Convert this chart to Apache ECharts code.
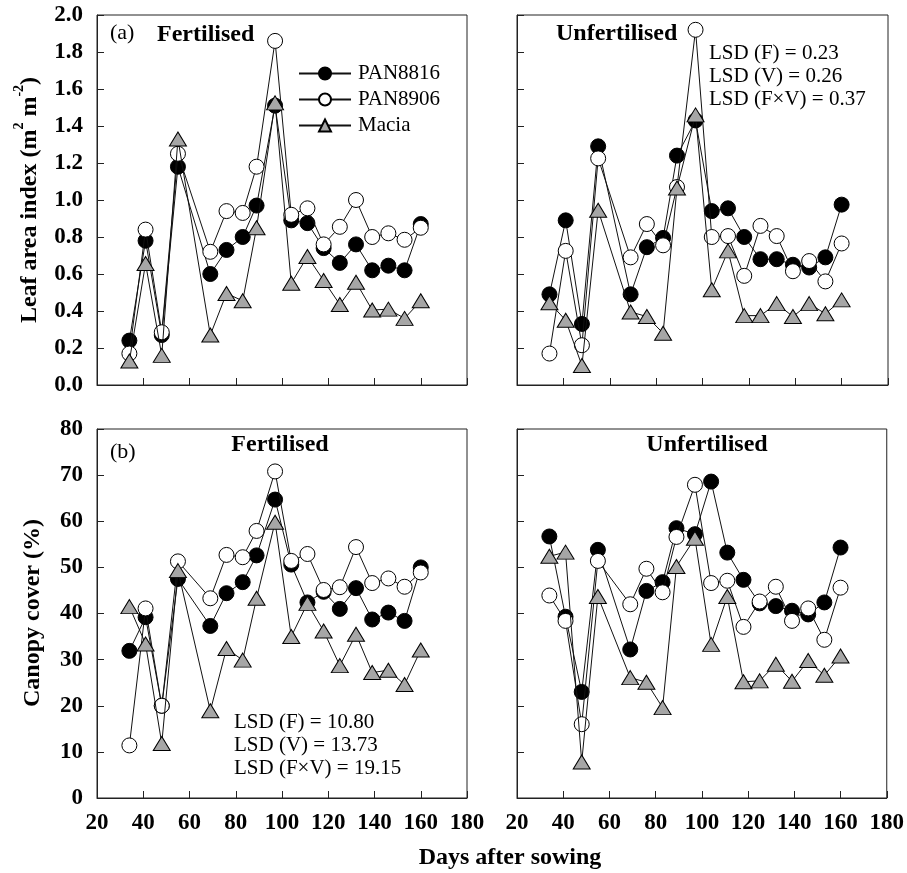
<!DOCTYPE html>
<html>
<head>
<meta charset="utf-8">
<script src="https://cdn.jsdelivr.net/npm/echarts@6/dist/echarts.min.js"></script>
<style>
html,body{margin:0;padding:0;background:#fff;}
#chart{width:907px;height:873px;}
</style>
</head>
<body>
<div id="chart"></div>
<script>
// Days after sowing
const days = [34, 41, 48, 55, 69, 76, 83, 89, 97, 104, 111, 118, 125, 132, 139, 146, 153, 160];

// (a) Leaf area index
const laiFertPAN8816 = [0.24, 0.78, 0.27, 1.18, 0.60, 0.73, 0.80, 0.97, 1.51, 0.89, 0.875, 0.74, 0.66, 0.76, 0.62, 0.645, 0.62, 0.87];
const laiFertPAN8906 = [0.17, 0.84, 0.285, 1.25, 0.72, 0.94, 0.93, 1.18, 1.86, 0.92, 0.955, 0.76, 0.855, 1.0, 0.80, 0.82, 0.785, 0.85];
const laiFertMacia   = [0.13, 0.657, 0.16, 1.33, 0.27, 0.495, 0.455, 0.85, 1.525, 0.55, 0.695, 0.565, 0.435, 0.555, 0.405, 0.41, 0.36, 0.455];

const laiUnfPAN8816 = [0.49, 0.89, 0.33, 1.29, 0.49, 0.745, 0.795, 1.24, 1.43, 0.94, 0.955, 0.80, 0.68, 0.68, 0.65, 0.635, 0.69, 0.975];
const laiUnfPAN8906 = [0.17, 0.725, 0.215, 1.225, 0.69, 0.87, 0.755, 1.07, 1.92, 0.80, 0.805, 0.59, 0.86, 0.805, 0.615, 0.67, 0.56, 0.765];
const laiUnfMacia   = [0.445, 0.35, 0.105, 0.945, 0.395, 0.37, 0.28, 1.065, 1.46, 0.515, 0.725, 0.375, 0.375, 0.44, 0.37, 0.44, 0.385, 0.46];

// (b) Canopy cover (%)
const ccFertPAN8816 = [31.9, 39.2, 20.0, 47.5, 37.3, 44.4, 46.8, 52.6, 64.7, 50.6, 42.4, 44.7, 41.0, 45.5, 38.7, 40.2, 38.4, 50.0];
const ccFertPAN8906 = [11.4, 41.1, 20.0, 51.3, 43.3, 52.7, 52.2, 57.9, 70.8, 51.4, 52.9, 45.1, 45.7, 54.4, 46.6, 47.6, 45.8, 48.9];
const ccFertMacia   = [41.5, 33.4, 11.8, 49.3, 18.9, 32.4, 29.9, 43.3, 59.8, 35.0, 42.2, 36.2, 28.7, 35.5, 27.2, 27.7, 24.6, 32.1];

const ccUnfPAN8816 = [56.7, 39.3, 23.0, 53.8, 32.2, 44.9, 46.8, 58.5, 57.2, 68.6, 53.2, 47.3, 42.2, 41.6, 40.6, 39.8, 42.4, 54.3];
const ccUnfPAN8906 = [43.9, 38.4, 16.0, 51.4, 42.0, 49.7, 44.6, 56.6, 67.9, 46.6, 47.1, 37.1, 42.6, 45.8, 38.4, 41.1, 34.3, 45.6];
const ccUnfMacia   = [52.4, 53.3, 7.8, 43.7, 26.1, 25.1, 19.6, 50.2, 56.3, 33.3, 43.7, 25.2, 25.4, 29.0, 25.3, 29.8, 26.6, 30.8];

const varieties = ['PAN8816', 'PAN8906', 'Macia'];
const panels = [
  [laiFertPAN8816, laiFertPAN8906, laiFertMacia],
  [laiUnfPAN8816, laiUnfPAN8906, laiUnfMacia],
  [ccFertPAN8816, ccFertPAN8906, ccFertMacia],
  [ccUnfPAN8816, ccUnfPAN8906, ccUnfMacia]
];

const SERIF = "'Liberation Serif', 'Times New Roman', serif";
const AX = '#222';

const styles = {
  PAN8816: { symbol: 'circle', size: 15, fill: '#000' },
  PAN8906: { symbol: 'circle', size: 15, fill: '#fff' },
  Macia:   { symbol: 'triangle', size: [17, 14], fill: '#a6a6a6' }
};

const grids = [
  { left: 97, top: 15, width: 370, height: 370 },
  { left: 517, top: 15, width: 371, height: 370 },
  { left: 97, top: 429, width: 370, height: 369 },
  { left: 517, top: 429, width: 371, height: 369 }
].map(g => Object.assign({ show: true, borderColor: AX, borderWidth: 1, backgroundColor: 'transparent' }, g));

const xAxes = grids.map((g, i) => ({
  type: 'value', gridIndex: i, min: 20, max: 180, interval: 20,
  axisLine: { show: true, lineStyle: { color: AX, width: 1 } },
  axisTick: { show: true, inside: true, length: 7, lineStyle: { color: AX } },
  splitLine: { show: false },
  axisLabel: { show: i >= 2, margin: 14, color: '#000', fontFamily: SERIF, fontWeight: 'bold', fontSize: 23 }
}));

const yAxes = grids.map((g, i) => {
  const lai = i < 2;
  return {
    type: 'value', gridIndex: i,
    min: 0, max: lai ? 2 : 80, interval: lai ? 0.2 : 10,
    axisLine: { show: true, lineStyle: { color: AX, width: 1 } },
    axisTick: { show: true, inside: true, length: 7, lineStyle: { color: AX } },
    splitLine: { show: false },
    axisLabel: {
      show: i % 2 === 0, margin: 14, color: '#000', fontFamily: SERIF, fontWeight: 'bold', fontSize: 23,
      formatter: v => lai ? v.toFixed(1) : String(v)
    }
  };
});

const series = [];
panels.forEach((vals, pi) => {
  vals.forEach((arr, vi) => {
    const name = varieties[vi];
    const st = styles[name];
    series.push({
      name: name, type: 'line', xAxisIndex: pi, yAxisIndex: pi,
      data: days.map((d, k) => [d, arr[k]]),
      symbol: st.symbol, symbolSize: st.size, showSymbol: true,
      lineStyle: { color: '#111', width: 1 },
      itemStyle: { color: st.fill, borderColor: '#000', borderWidth: 1 },
      emphasis: { disabled: true },
      z: 2 + vi,
      animation: false
    });
  });
});

function txt(text, x, y, opts) {
  opts = opts || {};
  return {
    type: 'text', x: x, y: y, rotation: opts.rotation || 0, z: 100,
    style: Object.assign({
      text: text, fill: '#000',
      font: (opts.bold ? 'bold ' : '') + (opts.size || 21) + 'px ' + SERIF,
      textAlign: opts.align || 'left', textVerticalAlign: 'middle'
    }, opts.extra || {})
  };
}

const supRich = {
  b: { fontFamily: SERIF, fontWeight: 'bold', fontSize: 24, fill: '#000', color: '#000', lineHeight: 30, verticalAlign: 'bottom' },
  s: { fontFamily: SERIF, fontWeight: 'bold', fontSize: 14, fill: '#000', color: '#000', lineHeight: 30, verticalAlign: 'top' }
};

const graphics = [
  txt('(a)', 110, 33, { size: 22 }),
  txt('Fertilised', 157, 35, { bold: true, size: 24 }),
  txt('Unfertilised', 556, 34, { bold: true, size: 24 }),
  txt('LSD (F) = 0.23', 709, 53, { size: 21 }),
  txt('LSD (V) = 0.26', 709, 76, { size: 21 }),
  txt('LSD (F×V) = 0.37', 709, 99, { size: 21 }),
  txt('(b)', 110, 452, { size: 22 }),
  txt('Fertilised', 280, 445, { bold: true, size: 24, align: 'center' }),
  txt('Unfertilised', 707, 445, { bold: true, size: 24, align: 'center' }),
  txt('LSD (F) = 10.80', 234, 722, { size: 21 }),
  txt('LSD (V) = 13.73', 234, 745, { size: 21 }),
  txt('LSD (F×V) = 19.15', 234, 768, { size: 21 }),
  {
    type: 'text', x: 27, y: 200, rotation: Math.PI / 2, z: 100,
    style: {
      text: '{b|Leaf area index (m}{s|2}{b| m}{s|-2}{b|)}',
      rich: supRich, textAlign: 'center', textVerticalAlign: 'middle', fill: '#000'
    }
  },
  txt('Canopy cover (%)', 33, 613, { bold: true, size: 24, align: 'center', rotation: Math.PI / 2 }),
  txt('Days after sowing', 510, 858, { bold: true, size: 24, align: 'center' })
];

const chart = echarts.init(document.getElementById('chart'), null, { renderer: 'canvas' });
chart.setOption({
  backgroundColor: '#fff',
  animation: false,
  grid: grids,
  xAxis: xAxes,
  yAxis: yAxes,
  legend: {
    data: varieties, orient: 'vertical', left: 293, top: 58,
    itemWidth: 52, itemHeight: 15, itemGap: 5,
    textStyle: { fontFamily: SERIF, fontSize: 21, color: '#000', padding: [0, 0, 0, 2] },
    selectedMode: false
  },
  series: series,
  graphic: graphics
});
</script>
</body>
</html>
